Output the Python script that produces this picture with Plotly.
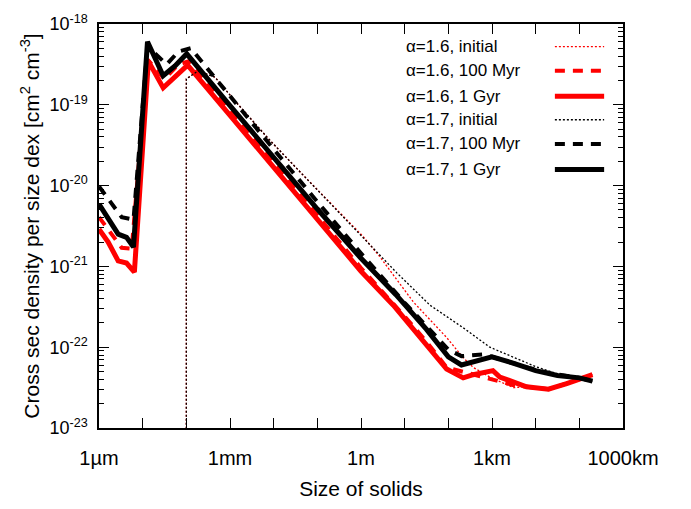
import plotly.graph_objects as go

# ---------------- data ----------------
# alpha = 1.6
size_16_init = [1e-4, 1e-4, 1.86e-4, 4.57e-4, 1.29e-3, 7.59e-3, 4.37e-2, 0.224, 1.12, 2.69,
                15.8, 91.2, 219, 372, 891, 3090, 6170, 1.95e4, 5.13e4, 2.0e5]
dens_16_init = [1e-24, 2.09e-19, 2.63e-19, 2.19e-19, 1.12e-19, 3.80e-20, 1.41e-20, 5.62e-21, 2.34e-21, 1.32e-21,
                3.63e-22, 1.32e-22, 7.41e-23, 5.62e-23, 4.27e-23, 3.16e-23, 3.24e-23, 3.02e-23, 3.55e-23, 4.57e-23]

size_16_100myr = [1e-6, 1.78e-6, 3.31e-6, 5.62e-6, 1.29e-5, 3.16e-5, 6.61e-5, 1.17e-4, 1e-3, 1e-2, 0.1, 1.0,
                  10.0, 31.6, 91.2, 251, 1000, 3160, 6310, 2.0e4, 5.01e4, 2.0e5]
dens_16_100myr = [4.07e-21, 2.63e-21, 1.70e-21, 1.66e-21, 3.63e-19, 2.09e-19, 3.16e-19, 3.47e-19, 8.32e-20, 1.91e-20,
                  4.27e-21, 9.55e-22, 2.40e-22, 1.17e-22, 5.62e-23, 4.90e-23, 3.98e-23, 3.39e-23, 3.24e-23, 3.02e-23,
                  3.55e-23, 4.57e-23]

size_16_1gyr = [1e-6, 1.62e-6, 2.75e-6, 4.27e-6, 6.46e-6, 1.35e-5, 2.95e-5, 5.50e-5, 1.07e-4, 1e-3, 1e-2, 0.1, 1.0,
                5.50, 31.6, 91.2, 219, 372, 1050, 1510, 6170, 1.95e4, 5.13e4, 2.0e5]
dens_16_1gyr = [2.88e-21, 2.00e-21, 1.17e-21, 1.10e-21, 8.51e-22, 3.47e-19, 1.62e-19, 2.19e-19, 3.09e-19, 7.41e-20,
                1.70e-20, 3.89e-21, 8.71e-22, 3.31e-22, 1.07e-22, 5.37e-23, 4.17e-23, 4.57e-23, 5.13e-23, 4.27e-23,
                3.24e-23, 3.02e-23, 3.55e-23, 4.57e-23]

# alpha = 1.7
size_17_init = [1e-4, 1e-4, 1.86e-4, 4.57e-4, 1.29e-3, 7.59e-3, 4.37e-2, 0.224, 1.12, 6.61, 38.0, 219, 891,
                3160, 1e4, 3.16e4, 1e5, 2.0e5]
dens_17_init = [1e-24, 2.09e-19, 2.63e-19, 2.19e-19, 1.12e-19, 3.80e-20, 1.41e-20, 5.62e-21, 2.29e-21, 8.32e-22,
                3.31e-22, 1.74e-22, 1.00e-22, 7.41e-23, 5.75e-23, 4.68e-23, 4.17e-23, 3.80e-23]

size_17_100myr = [1e-6, 1.78e-6, 3.31e-6, 6.17e-6, 1.29e-5, 3.55e-5, 6.61e-5, 1.26e-4, 1e-3, 1e-2, 0.1, 1.0,
                  10.0, 31.6, 100, 200, 631, 1580, 6310, 2.0e4, 1e5, 2.0e5]
dens_17_100myr = [9.77e-21, 6.46e-21, 4.07e-21, 3.80e-21, 5.25e-19, 3.16e-19, 4.57e-19, 5.01e-19, 1.26e-19, 2.82e-20,
                  6.31e-21, 1.45e-21, 3.55e-22, 1.82e-22, 9.33e-23, 7.76e-23, 8.13e-23, 7.08e-23, 5.62e-23, 4.79e-23,
                  4.17e-23, 3.80e-23]

size_17_1gyr = [1e-6, 1.62e-6, 2.75e-6, 4.27e-6, 6.17e-6, 1.29e-5, 2.95e-5, 5.50e-5, 1.02e-4, 1e-3, 1e-2, 0.1, 1.0,
                6.31, 31.6, 100, 200, 1000, 3160, 1e4, 3.16e4, 1e5, 2.0e5]
dens_17_1gyr = [5.89e-21, 3.98e-21, 2.51e-21, 2.29e-21, 1.74e-21, 6.03e-19, 2.29e-19, 3.02e-19, 4.27e-19, 9.77e-20,
                2.24e-20, 5.13e-21, 1.26e-21, 4.47e-22, 1.66e-22, 7.59e-23, 6.03e-23, 7.59e-23, 6.31e-23, 5.13e-23,
                4.47e-23, 4.17e-23, 3.80e-23]

series_names = ["α=1.6, initial", "α=1.6, 100 Myr", "α=1.6, 1 Gyr",
                "α=1.7, initial", "α=1.7, 100 Myr", "α=1.7, 1 Gyr"]

x_tick_vals = [1e-6, 1e-3, 1, 1e3, 1e6]
x_tick_text = ["1µm", "1mm", "1m", "1km", "1000km"]
x_minor_vals = [1e-5, 1e-4, 1e-2, 1e-1, 1e1, 1e2, 1e4, 1e5]
y_tick_vals = [1e-23, 1e-22, 1e-21, 1e-20, 1e-19, 1e-18]
y_tick_text = ["10<sup>-23</sup>", "10<sup>-22</sup>", "10<sup>-21</sup>",
               "10<sup>-20</sup>", "10<sup>-19</sup>", "10<sup>-18</sup>"]
y_minor_vals = [m * 10.0 ** e for e in range(-23, -18) for m in range(2, 10)]

# ---------------- styles ----------------
RED = "#ff0000"
BLACK = "#000000"
styles = [
    dict(color=RED, width=1.3, dash="2px,2px"),
    dict(color=RED, width=4, dash="10px,8px"),
    dict(color=RED, width=5, dash="solid"),
    dict(color=BLACK, width=1.3, dash="2px,2px"),
    dict(color=BLACK, width=4, dash="10px,8px"),
    dict(color=BLACK, width=5, dash="solid"),
]
data = [
    (size_16_init, dens_16_init),
    (size_16_100myr, dens_16_100myr),
    (size_16_1gyr, dens_16_1gyr),
    (size_17_init, dens_17_init),
    (size_17_100myr, dens_17_100myr),
    (size_17_1gyr, dens_17_1gyr),
]

FONT = "Liberation Sans, Arial, Helvetica, sans-serif"
fig = go.Figure()
for (xs, ys), name, st in zip(data, series_names, styles):
    fig.add_trace(go.Scatter(x=xs, y=ys, mode="lines", name=name, line=st,
                             showlegend=False, cliponaxis=True))

# gnuplot-style key: text on the left, line sample on the right
row_y = [0.944, 0.884, 0.821, 0.763, 0.703, 0.640]
for name, st, yy in zip(series_names, styles, row_y):
    fig.add_annotation(x=0.582, y=yy, xref="paper", yref="paper", text=name,
                       showarrow=False, xanchor="left", yanchor="middle",
                       font=dict(size=17, color="black", family=FONT))
    fig.add_shape(type="line", xref="paper", yref="paper", x0=0.870, x1=0.964, y0=yy, y1=yy,
                  line=dict(color=st["color"], width=st["width"], dash=st["dash"]))

axis_common = dict(showline=True, linecolor="black", linewidth=1.5, mirror="ticks",
                   ticks="inside", ticklen=10, tickwidth=1, tickcolor="black",
                   showgrid=False, zeroline=False)

fig.update_xaxes(type="log", range=[-6, 6], tickmode="array", tickvals=x_tick_vals, ticktext=x_tick_text,
                 ticklabelstandoff=11, tickfont=dict(size=20, color="black", family=FONT),
                 minor=dict(tickmode="array", tickvals=x_minor_vals, ticks="inside", ticklen=10,
                            tickcolor="black", tickwidth=1, showgrid=False),
                 title=dict(text="Size of solids", font=dict(size=21, color="black", family=FONT), standoff=14),
                 **axis_common)
fig.update_yaxes(type="log", range=[-23, -18], tickmode="array", tickvals=y_tick_vals, ticktext=y_tick_text,
                 ticklabelstandoff=6, tickfont=dict(size=18, color="black", family=FONT),
                 minor=dict(tickmode="array", tickvals=y_minor_vals, ticks="inside", ticklen=5,
                            tickcolor="black", tickwidth=1, showgrid=False),
                 title=dict(text="Cross sec density per size dex [cm<sup>2</sup> cm<sup>-3</sup>]",
                            font=dict(size=21, color="black", family=FONT), standoff=4),
                 **axis_common)

fig.update_layout(width=691, height=509, margin=dict(l=99, r=68, t=15, b=80),
                  plot_bgcolor="white", paper_bgcolor="white",
                  font=dict(family=FONT, color="black"), showlegend=False)

fig.write_html("out.html")
